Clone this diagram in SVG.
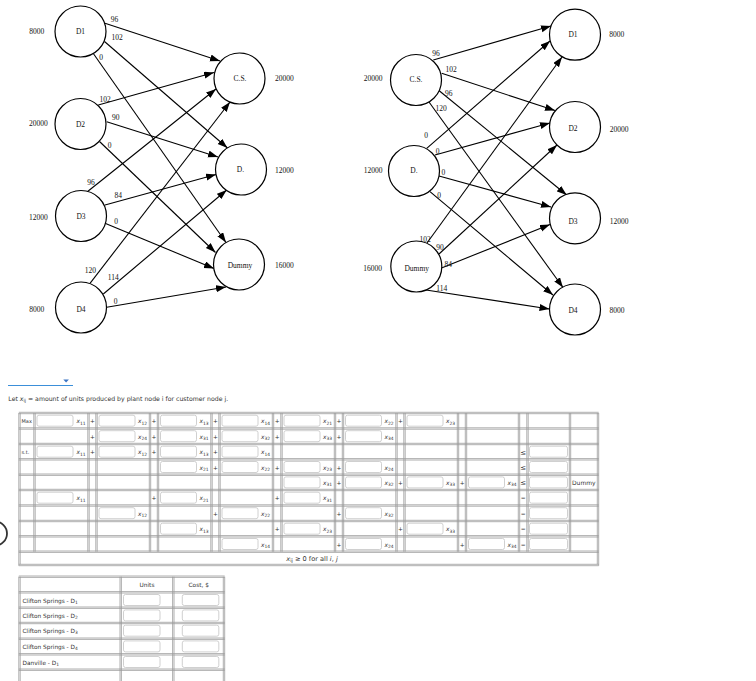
<svg xmlns="http://www.w3.org/2000/svg" xmlns:xlink="http://www.w3.org/1999/xlink" width="756" height="681" viewBox="0 0 756 681">
<style>
.n circle{fill:#fff;stroke:#000;stroke-width:1.2}
.t{font-family:"Liberation Serif",serif;font-size:7.5px;fill:#111;text-anchor:middle;dominant-baseline:central}
.e line{stroke:#000;stroke-width:1.1;marker-end:url(#ah)}
.lbl{font-family:"Liberation Serif",serif;font-size:7.5px;fill:#111;text-anchor:middle;dominant-baseline:central}
.g{fill:none;stroke:#9a9a9a;stroke-width:0.8}
.box{fill:#fff;stroke:#c4c4c4;stroke-width:0.8}
.tx{font-family:"DejaVu Sans",sans-serif;font-size:5.4px;fill:#333}
.v{font-family:"DejaVu Sans",sans-serif;font-size:5.8px;fill:#333;text-anchor:end}
.i{font-style:italic}
.s{font-size:4.4px}
.p{font-family:"DejaVu Sans",sans-serif;font-size:5.8px;fill:#333;text-anchor:middle}
.q{font-family:"DejaVu Sans",sans-serif;font-size:7px;fill:#333;text-anchor:middle}
</style>
<defs>
<marker id="ah" markerUnits="userSpaceOnUse" markerWidth="10" markerHeight="8" refX="10" refY="3.5" orient="auto"><path d="M0,0 L10,3.5 L0,7 z" fill="#000"/></marker>
<rect id="b" width="36" height="11" rx="2" class="box"/>
<rect id="rb" width="38" height="11" rx="2" class="box"/>
<rect id="ub" width="36.5" height="11" rx="2" class="box"/>
</defs>

<g id="connectors" class="e">
<line x1="105" y1="23.3" x2="220" y2="61"/>
<line x1="104.5" y1="41.5" x2="227.5" y2="148"/>
<line x1="93.3" y1="53.5" x2="226" y2="242.5"/>
<line x1="98.3" y1="105" x2="214" y2="72.5"/>
<line x1="106.7" y1="121.7" x2="218" y2="157"/>
<line x1="99.5" y1="141.5" x2="215.5" y2="252.5"/>
<line x1="87.3" y1="191.7" x2="216" y2="89"/>
<line x1="105" y1="205" x2="216" y2="174.5"/>
<line x1="105" y1="223.3" x2="214" y2="268.5"/>
<line x1="90" y1="283.3" x2="230" y2="102"/>
<line x1="103.3" y1="294" x2="226.7" y2="190"/>
<line x1="106.7" y1="307.3" x2="226" y2="287"/>
<line x1="433.3" y1="60" x2="551" y2="26"/>
<line x1="441.7" y1="73.3" x2="555" y2="110.5"/>
<line x1="438.3" y1="90" x2="566.7" y2="195"/>
<line x1="429" y1="102" x2="563" y2="287.5"/>
<line x1="426.7" y1="148.3" x2="550" y2="41"/>
<line x1="435" y1="155" x2="550" y2="123"/>
<line x1="439" y1="176" x2="551" y2="207"/>
<line x1="430" y1="191.7" x2="553" y2="295"/>
<line x1="427" y1="243" x2="562" y2="57"/>
<line x1="439" y1="254" x2="557" y2="145"/>
<line x1="441.5" y1="268" x2="550" y2="224.5"/>
<line x1="426" y1="290" x2="549.5" y2="309"/>
</g>

<g id="edge-labels">
<text class="lbl" x="114.5" y="19">96</text>
<text class="lbl" x="117" y="37">102</text>
<text class="lbl" x="101" y="57.5">0</text>
<text class="lbl" x="105" y="99">102</text>
<text class="lbl" x="115.7" y="117">90</text>
<text class="lbl" x="109.7" y="145">0</text>
<text class="lbl" x="91" y="182.3">96</text>
<text class="lbl" x="118.3" y="195.5">84</text>
<text class="lbl" x="116" y="221.5">0</text>
<text class="lbl" x="90.3" y="270">120</text>
<text class="lbl" x="113.3" y="277.7">114</text>
<text class="lbl" x="115.7" y="301.7">0</text>
<text class="lbl" x="436" y="53.3">96</text>
<text class="lbl" x="451" y="69.3">102</text>
<text class="lbl" x="448.7" y="93">96</text>
<text class="lbl" x="441" y="108">120</text>
<text class="lbl" x="426" y="135">0</text>
<text class="lbl" x="437.7" y="151">0</text>
<text class="lbl" x="443.3" y="172.7">0</text>
<text class="lbl" x="439" y="195">0</text>
<text class="lbl" x="425" y="239">102</text>
<text class="lbl" x="440" y="247.7">90</text>
<text class="lbl" x="448.3" y="264.3">84</text>
<text class="lbl" x="441.7" y="288.3">114</text>
</g>

<g id="L-D1" class="n"><circle cx="80.5" cy="31.5" r="25.5"/><text class="t" x="80.5" y="31.5">D1</text><text class="t" x="36.7" y="31">8000</text></g>
<g id="L-D2" class="n"><circle cx="80.5" cy="124" r="25.5"/><text class="t" x="80.5" y="124">D2</text><text class="t" x="38.3" y="123">20000</text></g>
<g id="L-D3" class="n"><circle cx="81" cy="216" r="25.5"/><text class="t" x="81" y="216">D3</text><text class="t" x="38.3" y="217.7">12000</text></g>
<g id="L-D4" class="n"><circle cx="81" cy="307.5" r="25.5"/><text class="t" x="81" y="309">D4</text><text class="t" x="36.7" y="309.5">8000</text></g>
<g id="L-CS" class="n"><circle cx="239.5" cy="78.5" r="25.5"/><text class="t" x="240" y="78.5">C.S.</text><text class="t" x="284.3" y="78">20000</text></g>
<g id="L-D" class="n"><circle cx="241" cy="169.5" r="25.5"/><text class="t" x="240.5" y="169.5">D.</text><text class="t" x="284.3" y="170">12000</text></g>
<g id="L-Dummy" class="n"><circle cx="239" cy="264.5" r="25.5"/><text class="t" x="240" y="265">Dummy</text><text class="t" x="284.3" y="265">16000</text></g>

<g id="R-CS" class="n"><circle cx="416" cy="80" r="25.5"/><text class="t" x="416" y="79">C.S.</text><text class="t" x="373" y="78.7">20000</text></g>
<g id="R-D" class="n"><circle cx="414" cy="171" r="25.5"/><text class="t" x="414" y="170.5">D.</text><text class="t" x="373" y="170">12000</text></g>
<g id="R-Dummy" class="n"><circle cx="416.3" cy="266.5" r="25.5"/><text class="t" x="416.7" y="268">Dummy</text><text class="t" x="372.7" y="268.3">16000</text></g>
<g id="R-D1" class="n"><circle cx="575" cy="34.7" r="25.5"/><text class="t" x="573" y="34">D1</text><text class="t" x="616.7" y="34">8000</text></g>
<g id="R-D2" class="n"><circle cx="575" cy="127" r="25.5"/><text class="t" x="573" y="128.7">D2</text><text class="t" x="619" y="129">20000</text></g>
<g id="R-D3" class="n"><circle cx="575" cy="218.3" r="25.5"/><text class="t" x="573" y="221">D3</text><text class="t" x="619" y="221">12000</text></g>
<g id="R-D4" class="n"><circle cx="575" cy="309.5" r="25.5"/><text class="t" x="573" y="310">D4</text><text class="t" x="617" y="310">8000</text></g>

<g id="dropdown">
<line x1="8" y1="385.5" x2="73" y2="385.5" stroke="#3b8fd9" stroke-width="1"/>
<polygon points="63.3,379.4 68.9,379.4 66.1,382.4" fill="#3b74c4"/>
</g>
<text class="tx" x="8.3" y="400.8" style="font-size:6.2px">Let <tspan class="i">x</tspan><tspan class="s" dy="1.3">ij</tspan><tspan dy="-1.3"> = amount of units produced by plant node i for customer node j.</tspan></text>

<circle cx="-5" cy="533.5" r="12" fill="none" stroke="#333" stroke-width="1.8"/>

<g id="lp-table">
<path class="g" d="M18.8 413V565.7M20.2 413V564.3M33.8 413V551.7M35.2 413V551.7M87.8 413V551.7M89.2 413V551.7M95.8 413V551.7M97.2 413V551.7M149.3 413V551.7M150.7 413V551.7M157.3 413V551.7M158.7 413V551.7M210.8 413V551.7M212.2 413V551.7M218.8 413V551.7M220.2 413V551.7M272.3 413V551.7M273.7 413V551.7M280.8 413V551.7M282.2 413V551.7M334.3 413V551.7M335.7 413V551.7M342.3 413V551.7M343.7 413V551.7M395.8 413V551.7M397.2 413V551.7M403.8 413V551.7M405.2 413V551.7M457.3 413V551.7M458.7 413V551.7M465.3 413V551.7M466.7 413V551.7M518.3 413V551.7M519.7 413V551.7M526.8 413V551.7M528.2 413V551.7M569.3 413V551.7M570.7 413V551.7M597.3 413V564.3M598.7 413V565.7
M18.8 412.3H598.7M18.8 413.7H598.7M18.8 427.8H598.7M18.8 429.2H598.7M18.8 443.3H598.7M18.8 444.7H598.7M18.8 458.6H598.7M18.8 460H598.7M18.8 474H598.7M18.8 475.4H598.7M18.8 489.3H598.7M18.8 490.7H598.7M18.8 504.8H598.7M18.8 506.2H598.7M18.8 520.3H598.7M18.8 521.7H598.7M18.8 535.6H598.7M18.8 537H598.7M18.8 551H598.7M18.8 552.4H598.7M18.8 564.3H598.7M18.8 565.7H598.7"/>

<text class="tx" x="21.5" y="423.2" style="font-size:5px">Max</text>
<text class="tx" x="21.5" y="454.2" style="font-size:5px">s.t.</text>
<text class="tx" x="572" y="484.9" style="font-size:6px">Dummy</text>

<!-- row 0 -->
<use href="#b" x="37" y="415.2"/><text class="v" x="85.5" y="423.2"><tspan class="i">x</tspan><tspan class="s" dy="1.3">11</tspan></text>
<use href="#b" x="99" y="415.2"/><text class="v" x="147" y="423.2"><tspan class="i">x</tspan><tspan class="s" dy="1.3">12</tspan></text>
<use href="#b" x="160.5" y="415.2"/><text class="v" x="208.5" y="423.2"><tspan class="i">x</tspan><tspan class="s" dy="1.3">13</tspan></text>
<use href="#b" x="222" y="415.2"/><text class="v" x="270" y="423.2"><tspan class="i">x</tspan><tspan class="s" dy="1.3">14</tspan></text>
<use href="#b" x="284" y="415.2"/><text class="v" x="332" y="423.2"><tspan class="i">x</tspan><tspan class="s" dy="1.3">21</tspan></text>
<use href="#b" x="345.5" y="415.2"/><text class="v" x="393.5" y="423.2"><tspan class="i">x</tspan><tspan class="s" dy="1.3">22</tspan></text>
<use href="#b" x="407" y="415.2"/><text class="v" x="455" y="423.2"><tspan class="i">x</tspan><tspan class="s" dy="1.3">23</tspan></text>
<text class="p" x="92.5" y="423.2">+</text><text class="p" x="154" y="423.2">+</text><text class="p" x="215.5" y="423.2">+</text><text class="p" x="277.2" y="423.2">+</text><text class="p" x="339" y="423.2">+</text><text class="p" x="400.5" y="423.2">+</text>

<!-- row 1 -->
<use href="#b" x="99" y="430.7"/><text class="v" x="147" y="438.7"><tspan class="i">x</tspan><tspan class="s" dy="1.3">24</tspan></text>
<use href="#b" x="160.5" y="430.7"/><text class="v" x="208.5" y="438.7"><tspan class="i">x</tspan><tspan class="s" dy="1.3">31</tspan></text>
<use href="#b" x="222" y="430.7"/><text class="v" x="270" y="438.7"><tspan class="i">x</tspan><tspan class="s" dy="1.3">32</tspan></text>
<use href="#b" x="284" y="430.7"/><text class="v" x="332" y="438.7"><tspan class="i">x</tspan><tspan class="s" dy="1.3">33</tspan></text>
<use href="#b" x="345.5" y="430.7"/><text class="v" x="393.5" y="438.7"><tspan class="i">x</tspan><tspan class="s" dy="1.3">34</tspan></text>
<text class="p" x="92.5" y="438.7">+</text><text class="p" x="154" y="438.7">+</text><text class="p" x="215.5" y="438.7">+</text><text class="p" x="277.2" y="438.7">+</text><text class="p" x="339" y="438.7">+</text>

<!-- row 2 -->
<use href="#b" x="37" y="446.2"/><text class="v" x="85.5" y="454.2"><tspan class="i">x</tspan><tspan class="s" dy="1.3">11</tspan></text>
<use href="#b" x="99" y="446.2"/><text class="v" x="147" y="454.2"><tspan class="i">x</tspan><tspan class="s" dy="1.3">12</tspan></text>
<use href="#b" x="160.5" y="446.2"/><text class="v" x="208.5" y="454.2"><tspan class="i">x</tspan><tspan class="s" dy="1.3">13</tspan></text>
<use href="#b" x="222" y="446.2"/><text class="v" x="270" y="454.2"><tspan class="i">x</tspan><tspan class="s" dy="1.3">14</tspan></text>
<text class="p" x="92.5" y="454.2">+</text><text class="p" x="154" y="454.2">+</text><text class="p" x="215.5" y="454.2">+</text>
<text class="q" x="523.2" y="454.5">≤</text><use href="#rb" x="529.5" y="446.2"/>

<!-- row 3 -->
<use href="#b" x="160.5" y="461.5"/><text class="v" x="208.5" y="469.5"><tspan class="i">x</tspan><tspan class="s" dy="1.3">21</tspan></text>
<use href="#b" x="222" y="461.5"/><text class="v" x="270" y="469.5"><tspan class="i">x</tspan><tspan class="s" dy="1.3">22</tspan></text>
<use href="#b" x="284" y="461.5"/><text class="v" x="332" y="469.5"><tspan class="i">x</tspan><tspan class="s" dy="1.3">23</tspan></text>
<use href="#b" x="345.5" y="461.5"/><text class="v" x="393.5" y="469.5"><tspan class="i">x</tspan><tspan class="s" dy="1.3">24</tspan></text>
<text class="p" x="215.5" y="469.5">+</text><text class="p" x="277.2" y="469.5">+</text><text class="p" x="339" y="469.5">+</text>
<text class="q" x="523.2" y="469.8">≤</text><use href="#rb" x="529.5" y="461.5"/>

<!-- row 4 -->
<use href="#b" x="284" y="476.9"/><text class="v" x="332" y="484.9"><tspan class="i">x</tspan><tspan class="s" dy="1.3">31</tspan></text>
<use href="#b" x="345.5" y="476.9"/><text class="v" x="393.5" y="484.9"><tspan class="i">x</tspan><tspan class="s" dy="1.3">32</tspan></text>
<use href="#b" x="407" y="476.9"/><text class="v" x="455" y="484.9"><tspan class="i">x</tspan><tspan class="s" dy="1.3">33</tspan></text>
<use href="#b" x="468.5" y="476.9"/><text class="v" x="516.5" y="484.9"><tspan class="i">x</tspan><tspan class="s" dy="1.3">34</tspan></text>
<text class="p" x="339" y="484.9">+</text><text class="p" x="400.5" y="484.9">+</text><text class="p" x="462.2" y="484.9">+</text>
<text class="q" x="523.2" y="485.2">≤</text><use href="#rb" x="529.5" y="476.9"/>

<!-- row 5 -->
<use href="#b" x="37" y="492.2"/><text class="v" x="85.5" y="500.2"><tspan class="i">x</tspan><tspan class="s" dy="1.3">11</tspan></text>
<use href="#b" x="160.5" y="492.2"/><text class="v" x="208.5" y="500.2"><tspan class="i">x</tspan><tspan class="s" dy="1.3">21</tspan></text>
<use href="#b" x="284" y="492.2"/><text class="v" x="332" y="500.2"><tspan class="i">x</tspan><tspan class="s" dy="1.3">31</tspan></text>
<text class="p" x="154" y="500.2">+</text><text class="p" x="277.2" y="500.2">+</text>
<text class="p" x="523.2" y="500.2">=</text><use href="#rb" x="529.5" y="492.2"/>

<!-- row 6 -->
<use href="#b" x="99" y="507.7"/><text class="v" x="147" y="515.7"><tspan class="i">x</tspan><tspan class="s" dy="1.3">12</tspan></text>
<use href="#b" x="222" y="507.7"/><text class="v" x="270" y="515.7"><tspan class="i">x</tspan><tspan class="s" dy="1.3">22</tspan></text>
<use href="#b" x="345.5" y="507.7"/><text class="v" x="393.5" y="515.7"><tspan class="i">x</tspan><tspan class="s" dy="1.3">32</tspan></text>
<text class="p" x="215.5" y="515.7">+</text><text class="p" x="339" y="515.7">+</text>
<text class="p" x="523.2" y="515.7">=</text><use href="#rb" x="529.5" y="507.7"/>

<!-- row 7 -->
<use href="#b" x="160.5" y="523.2"/><text class="v" x="208.5" y="531.2"><tspan class="i">x</tspan><tspan class="s" dy="1.3">13</tspan></text>
<use href="#b" x="284" y="523.2"/><text class="v" x="332" y="531.2"><tspan class="i">x</tspan><tspan class="s" dy="1.3">23</tspan></text>
<use href="#b" x="407" y="523.2"/><text class="v" x="455" y="531.2"><tspan class="i">x</tspan><tspan class="s" dy="1.3">33</tspan></text>
<text class="p" x="277.2" y="531.2">+</text><text class="p" x="400.5" y="531.2">+</text>
<text class="p" x="523.2" y="531.2">=</text><use href="#rb" x="529.5" y="523.2"/>

<!-- row 8 -->
<use href="#b" x="222" y="538.5"/><text class="v" x="270" y="546.5"><tspan class="i">x</tspan><tspan class="s" dy="1.3">14</tspan></text>
<use href="#b" x="345.5" y="538.5"/><text class="v" x="393.5" y="546.5"><tspan class="i">x</tspan><tspan class="s" dy="1.3">24</tspan></text>
<use href="#b" x="468.5" y="538.5"/><text class="v" x="516.5" y="546.5"><tspan class="i">x</tspan><tspan class="s" dy="1.3">34</tspan></text>
<text class="p" x="339" y="546.5">+</text><text class="p" x="462.2" y="546.5">+</text>
<text class="p" x="523.2" y="546.5">=</text><use href="#rb" x="529.5" y="538.5"/>

<text class="p" x="312" y="561" style="font-size:6.6px"><tspan class="i">x</tspan><tspan class="s" dy="1.3" style="font-size:4.8px">ij</tspan><tspan dy="-1.3"> ≥ 0 for all </tspan><tspan class="i">i</tspan>, <tspan class="i">j</tspan></text>
</g>

<g id="result-table">
<path class="g" d="M18.8 576.7V690M20.2 576.7V690M120 576.7V690M121.4 576.7V690M172.6 576.7V690M174 576.7V690M223.3 576.7V690M224.7 576.7V690
M18.8 576H224.7M18.8 577.4H224.7M18.8 591.6H224.7M18.8 593H224.7M18.8 607H224.7M18.8 608.4H224.7M18.8 622.3H224.7M18.8 623.7H224.7M18.8 638H224.7M18.8 639.4H224.7M18.8 653.6H224.7M18.8 655H224.7M18.8 669H224.7M18.8 670.4H224.7"/>
<text class="p" x="147" y="587">Units</text>
<text class="p" x="198.7" y="587">Cost, $</text>
<text class="tx" x="22.5" y="602.5" style="font-size:5.8px">Clifton Springs - D<tspan class="s" dy="1">1</tspan></text>
<text class="tx" x="22.5" y="617.9" style="font-size:5.8px">Clifton Springs - D<tspan class="s" dy="1">2</tspan></text>
<text class="tx" x="22.5" y="633.2" style="font-size:5.8px">Clifton Springs - D<tspan class="s" dy="1">3</tspan></text>
<text class="tx" x="22.5" y="648.9" style="font-size:5.8px">Clifton Springs - D<tspan class="s" dy="1">4</tspan></text>
<text class="tx" x="22.5" y="664.5" style="font-size:5.8px">Danville - D<tspan class="s" dy="1">1</tspan></text>
<use href="#ub" x="123.5" y="594.5"/><use href="#ub" x="182.3" y="594.5"/>
<use href="#ub" x="123.5" y="609.9"/><use href="#ub" x="182.3" y="609.9"/>
<use href="#ub" x="123.5" y="625.2"/><use href="#ub" x="182.3" y="625.2"/>
<use href="#ub" x="123.5" y="640.9"/><use href="#ub" x="182.3" y="640.9"/>
<use href="#ub" x="123.5" y="656.5"/><use href="#ub" x="182.3" y="656.5"/>
</g>
</svg>
